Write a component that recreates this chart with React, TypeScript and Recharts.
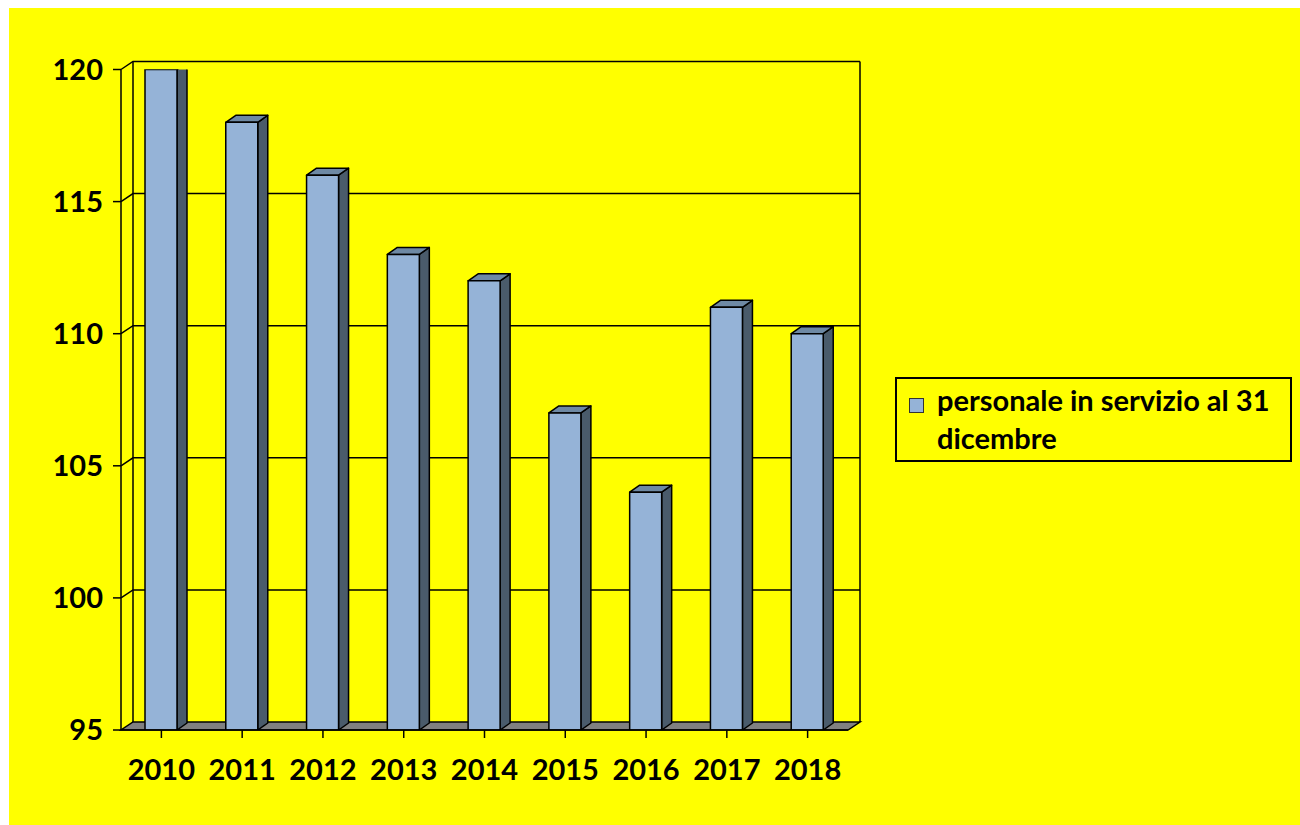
import { BarChart, Bar, XAxis, YAxis, CartesianGrid, Legend } from "recharts";

const years = ["2010", "2011", "2012", "2013", "2014", "2015", "2016", "2017", "2018"];
const staff = [120, 118, 116, 113, 112, 107, 104, 111, 110];
const yTicks = [95, 100, 105, 110, 115, 120];
const seriesName = "personale in servizio al 31 dicembre";

const data = years.map((year, i) => ({ year, staff: staff[i] }));

const FONT = "Lato, 'Open Sans', sans-serif";
const WALL_DX = 12;
const WALL_DY = 8;
const BAR_DX = 10;
const BAR_DY = 7;

// back wall + left wall + floor, drawn from the grid's own line positions
function WallLine(p: any) {
  const { x1, x2, y1 } = p;
  const bottom = p.y + p.height;
  const top = p.y;
  const bx1 = x1 + WALL_DX;
  const bx2 = x2 + WALL_DX;
  const by = y1 - WALL_DY;
  if (Math.abs(y1 - bottom) < 1) {
    return (
      <g key={p.key}>
        <polygon
          points={`${x1},${y1} ${x2},${y1} ${bx2},${by} ${bx1},${by}`}
          fill="#808080"
          stroke="#000"
          strokeWidth={1.5}
        />
      </g>
    );
  }
  return (
    <g key={p.key}>
      <polyline points={`${x1},${y1} ${bx1},${by} ${bx2},${by}`} fill="none" stroke="#000" strokeWidth={1.5} />
      {Math.abs(y1 - top) < 1 && (
        <>
          <line x1={bx1} y1={by} x2={bx1} y2={bottom - WALL_DY} stroke="#000" strokeWidth={1.5} />
          <line x1={bx2} y1={by} x2={bx2} y2={bottom - WALL_DY} stroke="#000" strokeWidth={1.5} />
        </>
      )}
    </g>
  );
}

function Bar3D(props: any) {
  const { x, y, width: w, height: h } = props;
  if (h <= 0) return null;
  return (
    <g stroke="#000" strokeWidth={1.5} strokeLinejoin="round">
      <polygon
        points={`${x + w},${y} ${x + w + BAR_DX},${y - BAR_DY} ${x + w + BAR_DX},${y + h - BAR_DY} ${x + w},${y + h}`}
        fill="#4A5B6B"
      />
      <polygon
        points={`${x},${y} ${x + BAR_DX},${y - BAR_DY} ${x + w + BAR_DX},${y - BAR_DY} ${x + w},${y}`}
        fill="#6E89A4"
      />
      <rect x={x} y={y} width={w} height={h} fill="#95B3D7" />
    </g>
  );
}

function LegendBox() {
  const words = seriesName.split(" ");
  const first = words.slice(0, -1).join(" ");
  const last = words[words.length - 1];
  return (
    <div
      style={{
        width: 397,
        height: 85,
        boxSizing: "border-box",
        border: "2px solid #000",
        position: "relative",
        fontFamily: FONT,
        fontWeight: 700,
        fontSize: 29,
        lineHeight: "38px",
        color: "#000",
      }}
    >
      <div
        style={{
          position: "absolute",
          left: 12,
          top: 19,
          width: 15,
          height: 15,
          boxSizing: "border-box",
          background: "#95B3D7",
          border: "1.5px solid #333",
        }}
      />
      <div style={{ position: "absolute", left: 40, top: 2, whiteSpace: "nowrap" }}>
        {first}
        <br />
        {last}
      </div>
    </div>
  );
}

const tickFont = { fontFamily: FONT, fontWeight: 700, fontSize: 29, fill: "#000" };

export default function App() {
  return (
    <div style={{ position: "fixed", left: 9, top: 8, width: 1291, height: 817, background: "#FFFF00" }}>
      <BarChart
        width={1291}
        height={817}
        data={data}
        margin={{ top: 61.5, right: 452, bottom: 0, left: 0 }}
      >
        <CartesianGrid vertical={false} horizontal={WallLine} />
        <XAxis
          dataKey="year"
          height={95}
          axisLine={{ stroke: "#000", strokeWidth: 1.5 }}
          tickLine={{ stroke: "#000", strokeWidth: 1.5 }}
          tickSize={8}
          tickMargin={21}
          interval={0}
          tick={tickFont}
        />
        <YAxis
          domain={[95, 120]}
          ticks={yTicks}
          width={112}
          allowDataOverflow
          axisLine={{ stroke: "#000", strokeWidth: 1.5 }}
          tickLine={{ stroke: "#000", strokeWidth: 1.5 }}
          tickSize={8}
          tickMargin={10}
          tick={tickFont}
        />
        <Legend
          layout="horizontal"
          align="center"
          verticalAlign="middle"
          content={() => <LegendBox />}
          wrapperStyle={{ left: 886, top: 369, width: 397, height: 85 }}
        />
        <Bar
          dataKey="staff"
          name={seriesName}
          barSize={32}
          shape={Bar3D}
          isAnimationActive={false}
        />
      </BarChart>
    </div>
  );
}
